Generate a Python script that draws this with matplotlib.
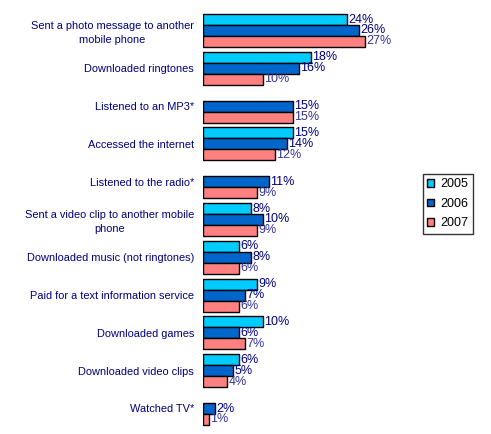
import numpy as np
import matplotlib.pyplot as plt
from matplotlib.patches import Patch

plt.rcParams['font.family'] = ['Liberation Sans', 'DejaVu Sans']

categories = ['Sent a photo message to another\nmobile phone',
              'Downloaded ringtones',
              'Listened to an MP3*',
              'Accessed the internet',
              'Listened to the radio*',
              'Sent a video clip to another mobile\nphone',
              'Downloaded music (not ringtones)',
              'Paid for a text information service',
              'Downloaded games',
              'Downloaded video clips',
              'Watched TV*']
years = ['2005', '2006', '2007']
v2005 = [24, 18, None, 15, None, 8, 6, 9, 10, 6, None]
v2006 = [26, 16, 15, 14, 11, 10, 8, 7, 6, 5, 2]
v2007 = [27, 10, 15, 12, 9, 9, 6, 6, 7, 4, 1]

colors = ['#00CCFF', '#0066CC', '#FF8080']
label_colors = ['#000080', '#000080', '#333399']

fig = plt.figure(figsize=(4.91, 4.34), dpi=100)
ax = fig.add_axes([203 / 491, 1 - 427.4 / 434, 180 / 491, 415.8 / 434])

n = len(categories)
y = np.arange(n)
h = 0.29
for i, vals in enumerate([v2005, v2006, v2007]):
    pos = y + (i - 1) * h
    for p, v in zip(pos, vals):
        if v is None:
            continue
        ax.barh(p, v, height=h, color=colors[i], edgecolor='black', linewidth=1)
        ax.text(v + 0.25, p, f'{v}%', va='center', ha='left', fontsize=9,
                color=label_colors[i])

ax.set_ylim(n - 0.5, -0.5)
ax.set_xlim(0, 30)
ax.set_yticks(y)
ax.set_yticklabels(categories, fontsize=7.9, color='#000080',
                   multialignment='center', linespacing=1.45)
ax.tick_params(axis='y', length=0, pad=6.5)
ax.set_xticks([])
for s in ['top', 'right', 'bottom', 'left']:
    ax.spines[s].set_visible(False)

handles = [Patch(facecolor=c, edgecolor='black', label=yr)
           for c, yr in zip(colors, years)]
leg = fig.legend(handles=handles, loc='upper left',
                 bbox_to_anchor=(423 / 491, 1 - 174 / 434), borderaxespad=0,
                 fontsize=9, frameon=True, fancybox=False, edgecolor='black',
                 handlelength=0.55, handleheight=0.55, handletextpad=0.5,
                 labelspacing=0.6, borderpad=0.35)
leg.get_frame().set_linewidth(1)

fig.savefig('out.png', dpi=100)
